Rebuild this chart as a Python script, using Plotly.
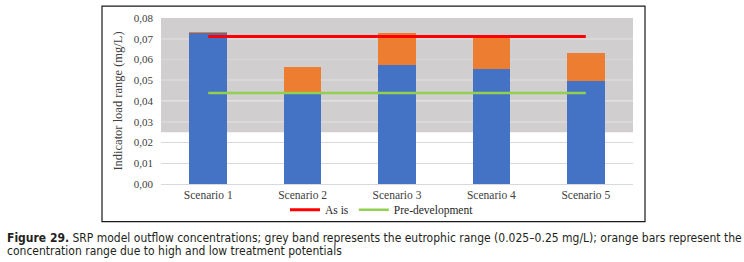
import plotly.graph_objects as go

categories = ["Scenario 1", "Scenario 2", "Scenario 3", "Scenario 4", "Scenario 5"]
low_values = [0.0728, 0.0438, 0.0573, 0.0554, 0.0497]
range_values = [0.0003, 0.0127, 0.0156, 0.0159, 0.0136]
as_is = [0.0711, 0.0711, 0.0711, 0.0711, 0.0711]
pre_development = [0.0438, 0.0438, 0.0438, 0.0438, 0.0438]
band_low, band_high = 0.025, 0.08
y_ticks = [0.00, 0.01, 0.02, 0.03, 0.04, 0.05, 0.06, 0.07, 0.08]

W, H = 744, 262
L, R, T, B = 161, 633, 16, 184

def px(x):
    return (x - L) / (R - L)

def py(y):
    return (B - y) / (B - T)

serif = "Liberation Serif, Times New Roman, serif"
fig = go.Figure()
fig.add_trace(go.Bar(x=categories, y=low_values, marker_color="#4472c4", width=0.4,
                     showlegend=False, marker_line_width=0))
fig.add_trace(go.Bar(x=categories, y=range_values, marker_color="#ed7d31", width=0.4,
                     showlegend=False, marker_line_width=0))
fig.add_trace(go.Scatter(x=categories, y=as_is, mode="lines", name="As is",
                         line=dict(color="#ff0000", width=3)))
fig.add_trace(go.Scatter(x=categories, y=pre_development, mode="lines", name="Pre-development",
                         line=dict(color="#92d050", width=2.5)))

shapes = [dict(type="rect", xref="paper", yref="y", x0=0, x1=1, y0=band_low, y1=band_high,
               fillcolor="#d0cece", line_width=0, layer="between")]
for t in y_ticks:
    if band_low < t < band_high:
        shapes.append(dict(type="line", xref="paper", yref="y", x0=0, x1=1, y0=t, y1=t,
                           line=dict(color="#f4f4f4", width=1), layer="between"))
shapes.append(dict(type="rect", xref="paper", yref="paper", x0=px(102), x1=px(645),
                   y0=py(222), y1=py(4), line=dict(color="#1a1a1a", width=1.2)))

cap_font = "Liberation Sans Narrow, DejaVu Sans Condensed, Arial Narrow, sans-serif"
annotations = [
    dict(text="<b>Figure 29.</b> SRP model outflow concentrations; grey band represents the eutrophic range (0.025–0.25 mg/L); orange bars represent the",
         xref="paper", yref="paper", x=px(5), y=py(239), xanchor="left", yanchor="middle",
         showarrow=False, font=dict(family=cap_font, size=12, color="#231f20")),
    dict(text="concentration range due to high and low treatment potentials",
         xref="paper", yref="paper", x=px(5), y=py(252), xanchor="left", yanchor="middle",
         showarrow=False, font=dict(family=cap_font, size=12, color="#231f20")),
]

fig.update_layout(
    width=W, height=H, barmode="stack", bargap=0.6,
    margin=dict(l=L, r=W - R, t=T, b=H - B, pad=0),
    paper_bgcolor="white", plot_bgcolor="white",
    separators=", ",
    font=dict(family=serif, size=11, color="#404040"),
    shapes=shapes, annotations=annotations,
    legend=dict(orientation="h", x=px(382), xanchor="center", y=py(210), yanchor="middle",
                traceorder="normal",
                font=dict(family=serif, size=11.5, color="#262626"),
                itemwidth=30, tracegroupgap=0, bgcolor="rgba(0,0,0,0)"),
    xaxis=dict(showline=True, linecolor="#d9d9d9", linewidth=1, showgrid=False,
               tickfont=dict(family=serif, size=11.5, color="#404040"),
               ticks="", ticklabelstandoff=0),
    yaxis=dict(range=[0, 0.08], tickvals=y_ticks, tickformat=".2f", showgrid=True,
               gridcolor="#d9d9d9", gridwidth=1, zeroline=False, showline=False,
               tickfont=dict(family=serif, size=11, color="#404040"), ticklabelstandoff=7,
               title=dict(text="Indicator load range (mg/L)", standoff=8,
                          font=dict(family=serif, size=12.5, color="#404040"))),
)

fig.write_html("out.html", config={"displayModeBar": False},
               post_script="document.body.style.margin='0px';")
